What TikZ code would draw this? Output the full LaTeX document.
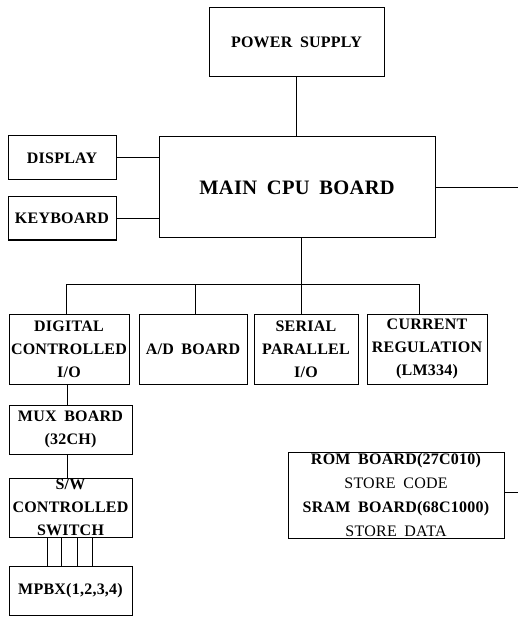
\documentclass[tikz,border=0pt]{standalone}
\usepackage{fontspec}
\setmainfont[LetterSpace=1.5,WordSpace=1.8]{Liberation Serif}
\begin{document}
\begin{tikzpicture}
[
	x=1pt,
	y=-1pt,
	blk/.style={draw,line width=1pt,inner sep=0pt,align=center,font=\bfseries\fontsize{16}{23}\selectfont},
	wire/.style={line width=1pt}
]
	\useasboundingbox (0,0) rectangle (518,617);

	% boxes
	\node[blk,minimum width=175pt,minimum height=69pt] (power) at (296.5,42.5) {POWER SUPPLY};
	\node[blk,minimum width=276pt,minimum height=101pt,font=\bfseries\fontsize{20.5}{24}\selectfont] (cpu) at (297,187.5) {MAIN CPU BOARD};
	\node[blk,minimum width=108pt,minimum height=44pt] (display) at (62,158) {DISPLAY};
	\node[blk,minimum width=108pt,minimum height=43pt] (keyboard) at (62,218.5) {KEYBOARD};

	\node[blk,minimum width=120pt,minimum height=70pt] (digital) at (69,349) {DIGITAL\\CONTROLLED\\I/O};
	\node[blk,minimum width=108pt,minimum height=70pt] (ad) at (193,349) {A/D BOARD};
	\node[blk,minimum width=104pt,minimum height=70pt] (serial) at (306,349) {SERIAL\\PARALLEL\\I/O};
	\node[blk,minimum width=120pt,minimum height=70pt] (current) at (427,349) {CURRENT\\REGULATION\\(LM334)};

	\node[blk,minimum width=123pt,minimum height=49pt] (mux) at (70.5,429.5) {MUX BOARD\\(32CH)};
	\node[blk,minimum width=123pt,minimum height=59pt] (sw) at (70.5,507.5) {S/W\\CONTROLLED\\SWITCH};
	\node[blk,minimum width=123pt,minimum height=49pt] (mpbx) at (70.5,590.5) {MPBX(1,2,3,4)};

	\node[blk,minimum width=216pt,minimum height=86pt,font=\bfseries\fontsize{16}{24}\selectfont] (rom) at (396,495)
		{ROM BOARD(27C010)\\{\mdseries STORE CODE}\\SRAM BOARD(68C1000)\\{\mdseries STORE DATA}};

	\coordinate (cpuout) at (518,188);
	\coordinate (romout) at (518,492);
	\coordinate (bus) at (301,284);

	% links
	\draw[wire] (power.south) -- (power.south |- cpu.north);
	\draw[wire] (display.east) -- (display.east -| cpu.west);
	\draw[wire] (keyboard.east) -- (keyboard.east -| cpu.west);
	\draw[wire] (cpuout -| cpu.east) -- (cpuout);
	\draw[wire] (romout -| rom.east) -- (romout);

	% bus
	\draw[wire] (bus |- cpu.south) -- (bus);
	\draw[wire] ([xshift=-3pt]digital.north |- bus) -- ([xshift=-8pt]current.north |- bus);
	\foreach \n/\dx in {digital/-3,ad/2,serial/-5,current/-8} {
		\draw[wire] ([xshift=\dx pt]\n.north) -- ([xshift=\dx pt]\n.north |- bus);
	}

	\draw[wire] ([xshift=-2pt]digital.south) -- ([xshift=-2pt]digital.south |- mux.north);
	\draw[wire] ([xshift=-3.5pt]mux.south) -- ([xshift=-3.5pt]mux.south |- sw.north);
	\foreach \dx in {-23.5,-9.5,6.5,21.5} {
		\draw[wire] ([xshift=\dx pt]sw.south) -- ([xshift=\dx pt]sw.south |- mpbx.north);
	}

\end{tikzpicture}
\end{document}
